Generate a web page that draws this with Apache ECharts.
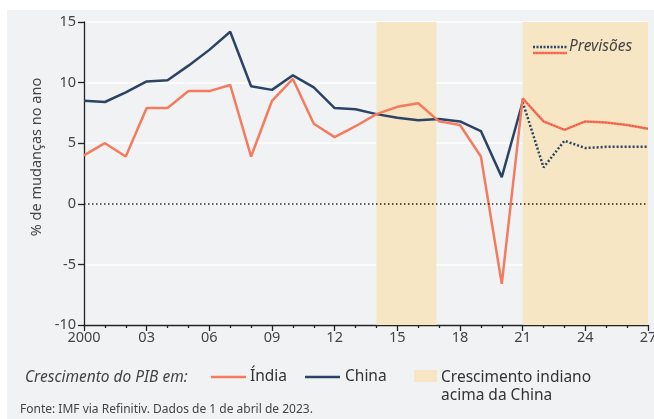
<!DOCTYPE html>
<html><head><meta charset="utf-8">
<script src="https://cdn.jsdelivr.net/npm/echarts@6/dist/echarts.min.js"></script>
<style>html,body{margin:0;padding:0;background:#fff}#c{width:654px;height:419px}</style>
</head><body><div id="c"></div>
<script>
const years = [2000,2001,2002,2003,2004,2005,2006,2007,2008,2009,2010,2011,2012,2013,2014,2015,2016,2017,2018,2019,2020,2021,2022,2023,2024,2025,2026,2027];
const india = [4.0,5.0,3.9,7.9,7.9,9.3,9.3,9.8,3.9,8.5,10.3,6.6,5.5,6.4,7.4,8.0,8.3,6.8,6.5,3.9,-6.6,8.7,6.8,6.1,6.8,6.7,6.5,6.2];
const china = [8.5,8.4,9.2,10.1,10.2,11.4,12.7,14.2,9.7,9.4,10.6,9.6,7.9,7.8,7.4,7.1,6.9,7.0,6.8,6.0,2.2,8.4,3.0,5.2,4.6,4.7,4.7,4.7];
const forecastFrom = 2021;
const shaded = [[2014, 2016.87], [2021, 2027]];
const yTicks = [-10, -5, 0, 5, 10, 15];

const hist = arr => years.map((y,i)=>[y,arr[i]]).filter(p=>p[0]<=forecastFrom);
const fc = arr => years.map((y,i)=>[y,arr[i]]).filter(p=>p[0]>=forecastFrom);

const ORANGE = '#f47b5e', NAVY = '#2b4365', RED = '#ef4a3c', SHADE = '#f6e6c3';
const FONT = '"Noto Sans", sans-serif';

const chart = echarts.init(document.getElementById('c'));
chart.setOption({
  animation: false,
  backgroundColor: '#fff',
  grid: {left: 84, right: 6, top: 22, bottom: 94, outerBoundsMode: 'none', containLabel: false},
  xAxis: {
    type: 'value', min: 2000, max: 2027, interval: 3,
    axisLine: {show: true, onZero: false, lineStyle: {color: '#222', width: 1.3}},
    axisTick: {show: true, length: 6, lineStyle: {color: '#222', width: 1.3}},
    minorTick: {show: true, splitNumber: 3, length: 3, lineStyle: {color: '#222', width: 1.3}},
    splitLine: {show: false},
    axisLabel: {color: '#444', fontSize: 14.5, fontFamily: FONT, margin: 5,
      formatter: v => v === 2000 ? '2000' : String(v % 100).padStart(2, '0')}
  },
  yAxis: {
    type: 'value', min: yTicks[0], max: yTicks[yTicks.length-1], interval: 5,
    axisLine: {show: true, lineStyle: {color: '#222', width: 1.3}},
    axisTick: {show: true, length: 6, lineStyle: {color: '#222', width: 1.3}},
    splitLine: {show: true, lineStyle: {color: '#fff', width: 1.5}},
    axisLabel: {color: '#444', fontSize: 14.5, fontFamily: FONT, margin: 8}
  },
  graphic: [
    {type: 'rect', z: -10, silent: true, shape: {x: 7, y: 10, width: 647, height: 409}, style: {fill: '#f1f2f4'}},
    {type: 'text', x: 37, y: 157, rotation: Math.PI / 2, style: {text: '% de mudanças no ano', font: '14.5px ' + FONT, fill: '#444', align: 'center', verticalAlign: 'middle'}},
    {type: 'text', left: 25, top: 370, style: {text: 'Crescimento do PIB em:', font: 'italic 15.5px ' + FONT, fill: '#444'}},
    {type: 'line', shape: {x1: 211, y1: 377, x2: 246, y2: 377}, style: {stroke: ORANGE, lineWidth: 2.5}},
    {type: 'text', left: 250, top: 369, style: {text: 'Índia', font: '15.5px ' + FONT, fill: '#333'}},
    {type: 'line', shape: {x1: 305, y1: 377, x2: 340, y2: 377}, style: {stroke: NAVY, lineWidth: 2.5}},
    {type: 'text', left: 345, top: 369, style: {text: 'China', font: '15.5px ' + FONT, fill: '#333'}},
    {type: 'rect', shape: {x: 414, y: 370, width: 23, height: 12}, style: {fill: SHADE}},
    {type: 'text', left: 441, top: 369, style: {text: 'Crescimento indiano\nacima da China', font: '15.5px ' + FONT, fill: '#333', lineHeight: 18}},
    {type: 'text', left: 20, top: 404, style: {text: 'Fonte: IMF via Refinitiv. Dados de 1 de abril de 2023.', font: '12px ' + FONT, fill: '#444'}},
    {type: 'line', z: 20, shape: {x1: 533, y1: 47, x2: 567, y2: 47}, style: {stroke: NAVY, lineWidth: 2.5, lineDash: [2, 1.5]}},
    {type: 'line', z: 20, shape: {x1: 533, y1: 53, x2: 567, y2: 53}, style: {stroke: ORANGE, lineWidth: 2.5}},
    {type: 'line', z: 21, shape: {x1: 533, y1: 53, x2: 567, y2: 53}, style: {stroke: RED, lineWidth: 1.2, lineDash: [1.5, 1.5]}},
    {type: 'text', z: 20, left: 569, top: 39, style: {text: 'Previsões', font: 'italic 15.5px ' + FONT, fill: '#444'}}
  ],
  series: [
    {type: 'line', data: [], z: 1, silent: true,
      markArea: {silent: true, itemStyle: {color: SHADE}, data: shaded.map(s => [{xAxis: s[0]}, {xAxis: s[1]}])},
      markLine: {silent: true, symbol: 'none', label: {show: false},
        lineStyle: {color: '#222', type: [1.5, 2.5], width: 1.5}, data: [{yAxis: 0}]}},
    {name: 'China', type: 'line', data: hist(china), symbol: 'none', z: 3, lineStyle: {color: NAVY, width: 2.5}},
    {name: 'Índia', type: 'line', data: hist(india), symbol: 'none', z: 4, lineStyle: {color: ORANGE, width: 2.5}},
    {type: 'line', data: fc(china), symbol: 'none', z: 3, lineStyle: {color: NAVY, width: 2.5, type: [2, 2]}},
    {type: 'line', data: fc(india), symbol: 'none', z: 4, lineStyle: {color: ORANGE, width: 2.5}},
    {type: 'line', data: fc(india), symbol: 'none', z: 5, lineStyle: {color: RED, width: 1.2, type: [1.5, 1.5]}}
  ]
});
</script></body></html>
